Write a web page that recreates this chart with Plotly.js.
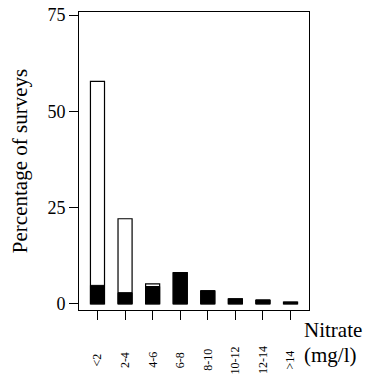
<!DOCTYPE html>
<html><head><meta charset="utf-8">
<script src="https://cdn.plot.ly/plotly-3.0.1.min.js"></script>
<style>html,body{margin:0;padding:0;background:#fff;}#chart{width:367px;height:376px;}</style>
</head><body><div id="chart"></div>
<script>
const categories = ["<2", "2-4", "4-6", "6-8", "8-10", "10-12", "12-14", ">14"];
const totalValues = [57.8, 22.1, 5.2, 8.1, 3.4, 1.3, 1.0, 0.45];
const blackValues = [4.8, 2.9, 4.5, 8.1, 3.4, 1.3, 1.0, 0.45];
const yTicks = [0, 25, 50, 75];

const idx = categories.map((c, i) => i);
const serif = "Liberation Serif, Times New Roman, serif";

const traces = [
  {type: "bar", x: idx, y: totalValues, width: 0.51,
   marker: {color: "#ffffff", line: {color: "#000000", width: 1.2}}, hoverinfo: "skip"},
  {type: "bar", x: idx, y: blackValues, width: 0.51,
   marker: {color: "#000000", line: {color: "#000000", width: 1}}, hoverinfo: "skip"}
];

const annotations = categories.map((c, i) => ({
  x: i, xref: "x", y: -0.168, yref: "paper", yanchor: "middle", xanchor: "center",
  text: c, textangle: -90, showarrow: false, font: {family: serif, size: 12, color: "#000"}
}));
annotations.push({
  x: 0.972, xref: "paper", y: -0.024, yref: "paper", xanchor: "left", yanchor: "top",
  text: "Nitrate", showarrow: false, borderpad: 0,
  font: {family: serif, size: 21, color: "#000"}
});
annotations.push({
  x: 0.972, xref: "paper", y: -0.108, yref: "paper", xanchor: "left", yanchor: "top",
  text: "(mg/l)", showarrow: false, borderpad: 0,
  font: {family: serif, size: 21, color: "#000"}
});

const layout = {
  width: 367, height: 376,
  margin: {l: 79, r: 58, t: 12, b: 66},
  paper_bgcolor: "#fff", plot_bgcolor: "#fff",
  showlegend: false, barmode: "overlay",
  xaxis: {range: [-0.67, 7.67], tickvals: idx, showticklabels: false, ticks: "outside",
    ticklen: 9, tickwidth: 1, tickcolor: "#000", showgrid: false, zeroline: false,
    showline: true, linecolor: "#000", linewidth: 1, mirror: true},
  yaxis: {range: [-1.6, 75.8], tickvals: yTicks, ticks: "outside", ticklen: 9,
    tickwidth: 1, tickcolor: "#000", showgrid: false, zeroline: false,
    showline: true, linecolor: "#000", linewidth: 1, mirror: true,
    tickfont: {family: serif, size: 18, color: "#000"},
    title: {text: "Percentage of surveys", font: {family: serif, size: 21, color: "#000"}, standoff: 14}},
  annotations: annotations
};
Plotly.newPlot("chart", traces, layout, {displayModeBar: false, staticPlot: true});
</script></body></html>
